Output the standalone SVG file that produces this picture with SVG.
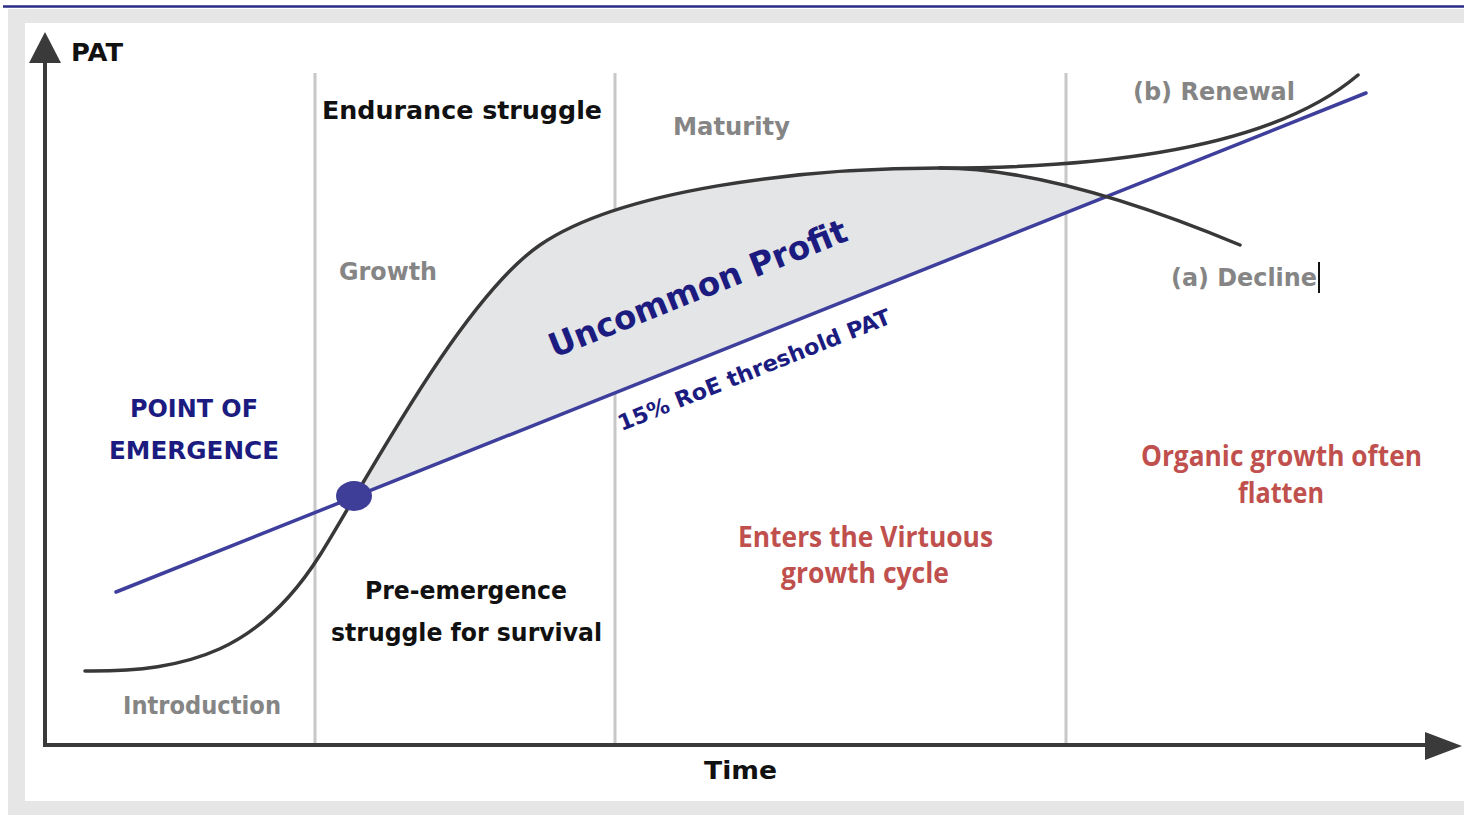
<svg xmlns="http://www.w3.org/2000/svg" width="1464" height="815" viewBox="0 0 1464 815">
<style>
.bm{font-family:"DejaVu Sans",Verdana,sans-serif;font-weight:bold}
.blk{fill:#111111}
.gry{fill:#858585}
.navy{fill:#1c1c80}
.red{font-family:"Open Sans","Liberation Sans",sans-serif;font-weight:bold;fill:#c0504d}
.vline{stroke:#c8c8c8;stroke-width:3;fill:none}
.axis{stroke:#3a3a3a;stroke-width:4;fill:none}
.curve{stroke:#383838;stroke-width:3.5;fill:none;stroke-linecap:round}
.thr{stroke:#3e3e9c;stroke-width:3.5;fill:none;stroke-linecap:round}
</style>
<defs>
<clipPath id="above">
<polygon points="0,638.3 1464,53.9 1464,0 0,0"/>
</clipPath>
</defs>
<rect x="0" y="0" width="1464" height="815" fill="#ffffff"/>
<rect x="8" y="9" width="1456" height="806" fill="#e6e6e6"/>
<rect x="25" y="23" width="1439" height="778" fill="#ffffff"/>
<line x1="3" y1="6.5" x2="1464" y2="6.5" stroke="#2a2a88" stroke-width="2.5"/>

<g id="phase-lines">
<line class="vline" x1="315" y1="73" x2="315" y2="745"/>
<line class="vline" x1="615" y1="73" x2="615" y2="745"/>
<line class="vline" x1="1066" y1="73" x2="1066" y2="745"/>
</g>

<g id="uncommon-profit-area">
<path clip-path="url(#above)" fill="#e4e5e7" d="M320,555 C360,492 460,300 540,245 C620,190 800,168 940,168 C1020,168 1120,195 1240,245 L1240,700 L320,700 Z"/>
</g>

<g id="connectors">
<line class="axis" x1="45" y1="747" x2="45" y2="58"/>
<polygon points="45,32 61,63 29,63" fill="#3a3a3a"/>
<line class="axis" x1="43" y1="745" x2="1430" y2="745"/>
<polygon points="1462,746 1425,732 1425,760" fill="#3a3a3a"/>
<line class="thr" x1="116" y1="592" x2="1366" y2="93"/>
<path class="curve" d="M85,671 C190,672 260,650 320,555 C360,492 460,300 540,245 C620,190 800,168 940,168"/>
<path class="curve" d="M940,168 C1020,168 1120,195 1240,245"/>
<path class="curve" d="M940,168 C1100,168 1270,150 1358,75"/>
</g>

<g id="point-of-emergence-dot">
<ellipse cx="354" cy="496" rx="18" ry="15" fill="#3e3e99"/>
</g>

<g id="axis-pat"><text class="bm blk" x="71" y="61" font-size="24" textLength="52" lengthAdjust="spacingAndGlyphs">PAT</text></g>
<g id="axis-time"><text class="bm blk" x="704" y="779" font-size="24" textLength="73" lengthAdjust="spacingAndGlyphs">Time</text></g>

<g id="label-endurance"><text class="bm blk" x="322" y="119" font-size="24" textLength="280" lengthAdjust="spacingAndGlyphs">Endurance struggle</text></g>
<g id="label-maturity"><text class="bm gry" x="673" y="135" font-size="24" textLength="117" lengthAdjust="spacingAndGlyphs">Maturity</text></g>
<g id="label-growth"><text class="bm gry" x="339" y="280" font-size="24" textLength="98" lengthAdjust="spacingAndGlyphs">Growth</text></g>
<g id="label-introduction"><text class="bm gry" x="123" y="714" font-size="24" textLength="158" lengthAdjust="spacingAndGlyphs">Introduction</text></g>
<g id="label-renewal"><text class="bm gry" x="1133" y="100" font-size="24" textLength="162" lengthAdjust="spacingAndGlyphs">(b) Renewal</text></g>
<g id="label-decline"><text class="bm gry" x="1171" y="286" font-size="24" textLength="146" lengthAdjust="spacingAndGlyphs">(a) Decline</text>
<line x1="1319" y1="262" x2="1319" y2="293" stroke="#111111" stroke-width="2"/></g>

<g id="label-point-of-emergence">
<text class="bm navy" x="130" y="417" font-size="24" textLength="128" lengthAdjust="spacingAndGlyphs">POINT OF</text>
<text class="bm navy" x="109" y="459" font-size="24" textLength="170" lengthAdjust="spacingAndGlyphs">EMERGENCE</text>
</g>

<g id="label-uncommon-profit"><text class="bm navy" x="702" y="299" font-size="33" text-anchor="middle" textLength="318" lengthAdjust="spacingAndGlyphs" transform="rotate(-21.8 702 299)">Uncommon Profit</text></g>
<g id="label-threshold"><text class="bm navy" x="757" y="377" font-size="22" text-anchor="middle" textLength="292" lengthAdjust="spacingAndGlyphs" transform="rotate(-21.8 757 377)">15% RoE threshold PAT</text></g>

<g id="label-pre-emergence">
<text class="bm blk" x="365" y="599" font-size="24" textLength="202" lengthAdjust="spacingAndGlyphs">Pre-emergence</text>
<text class="bm blk" x="331" y="641" font-size="24" textLength="271" lengthAdjust="spacingAndGlyphs">struggle for survival</text>
</g>

<g id="label-virtuous">
<text class="red" x="738" y="547" font-size="28" textLength="255" lengthAdjust="spacingAndGlyphs">Enters the Virtuous</text>
<text class="red" x="865" y="583" font-size="28" text-anchor="middle" textLength="168" lengthAdjust="spacingAndGlyphs">growth cycle</text>
</g>

<g id="label-organic">
<text class="red" x="1141" y="466" font-size="28" textLength="281" lengthAdjust="spacingAndGlyphs">Organic growth often</text>
<text class="red" x="1281" y="503" font-size="28" text-anchor="middle" textLength="86" lengthAdjust="spacingAndGlyphs">flatten</text>
</g>
</svg>
